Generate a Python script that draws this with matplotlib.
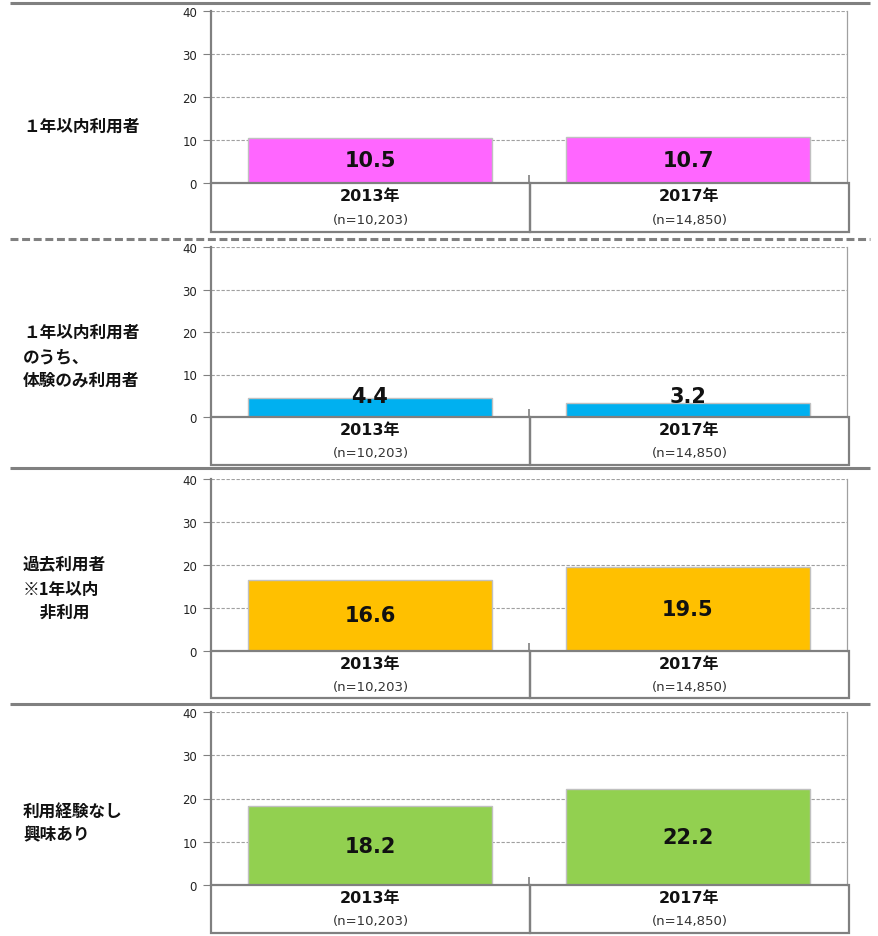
import matplotlib

matplotlib.use("Agg")
import matplotlib.pyplot as plt
from matplotlib.lines import Line2D
from matplotlib.patches import Rectangle

W, H = 879, 937
JP = ["Noto Sans CJK JP", "DejaVu Sans"]
NUM_JP = ["DejaVu Sans", "Noto Sans CJK JP"]
GRAY = "#808080"

years = ["2013年", "2017年"]
sample_sizes = ["(n=10,203)", "(n=14,850)"]
y_ticks = [0, 10, 20, 30, 40]

row_labels = [
    ["１年以内利用者"],
    ["１年以内利用者", "のうち、", "体験のみ利用者"],
    ["過去利用者", "※1年以内", "　非利用"],
    ["利用経験なし", "興味あり"],
]
values_recent = [10.5, 10.7]
values_trial_only = [4.4, 3.2]
values_past = [16.6, 19.5]
values_interested = [18.2, 22.2]
series = [values_recent, values_trial_only, values_past, values_interested]
bar_colors = ["#FF66FF", "#00B0F0", "#FFC000", "#92D050"]

# pixel layout: (y of 40, y of 0, table bottom), label line y's, separator above
panels = [
    ((12, 184, 233), [127], (4, "solid")),
    ((248, 418, 466), [333, 357, 380], (240, "dashed")),
    ((480, 652, 699), [565, 590, 613], (469, "solid")),
    ((713, 886, 934), [813, 835], (705, "solid")),
]
X_LEFT, X_RIGHT, X_TABLE_RIGHT = 211, 847, 849


def fy(y):
    return 1 - y / H


fig = plt.figure(figsize=(W / 100, H / 100), dpi=100)

for (geo, label_ys, sep), labels, vals, color in zip(panels, row_labels, series, bar_colors):
    y40, y0, yb = geo

    sep_y, sep_style = sep
    line = Line2D([10 / W, 870 / W], [fy(sep_y), fy(sep_y)], transform=fig.transFigure,
                  color=GRAY, linewidth=2.2, solid_capstyle="butt")
    if sep_style == "dashed":
        line.set_dashes((2.6, 1.2))
    fig.add_artist(line)

    ax = fig.add_axes([X_LEFT / W, fy(y0), (X_RIGHT - X_LEFT) / W, (y0 - y40) / H])
    x = list(range(len(vals)))
    ax.bar(x, vals, width=0.765, color=color, edgecolor="#C0C0C0", linewidth=1.0, zorder=3)
    ax.set_xlim(-0.5, 1.5)
    ax.set_ylim(0, 40)
    ax.set_yticks(y_ticks)
    ax.set_yticklabels([str(t) for t in y_ticks], fontsize=8.5, color="#222222")
    ax.set_xticks([0.5])
    ax.set_xticklabels([])
    ax.tick_params(axis="y", length=6, width=0.8, color=GRAY, pad=4)
    ax.tick_params(axis="x", direction="in", length=6, width=1.2, color=GRAY)
    for t in y_ticks[1:]:
        ax.axhline(t, color="#A0A0A0", linewidth=0.8, linestyle=(0, (3, 1.5)), zorder=1)
    ax.spines["top"].set_visible(False)
    ax.spines["left"].set_color(GRAY)
    ax.spines["left"].set_linewidth(1.6)
    ax.spines["right"].set_color("#A0A0A0")
    ax.spines["right"].set_linewidth(0.9)
    ax.spines["bottom"].set_color(GRAY)
    ax.spines["bottom"].set_linewidth(1.4)
    ax.patch.set_alpha(0)

    for xi, v in zip(x, vals):
        ax.text(xi, max(v / 2, 5.0), f"{v:.1f}", ha="center", va="center",
                fontsize=15, fontweight="bold", color="#111111", zorder=4)

    tax = fig.add_axes([X_LEFT / W, fy(yb), (X_TABLE_RIGHT - X_LEFT) / W, (yb - y0) / H])
    tax.set_axis_off()
    for i, (yr, n) in enumerate(zip(years, sample_sizes)):
        tax.add_patch(Rectangle((i * 0.5, 0), 0.5, 1, transform=tax.transAxes, fill=False,
                                edgecolor=GRAY, linewidth=1.6, clip_on=False))
        cx = i * 0.5 + 0.25
        tax.text(cx, 0.74, yr, transform=tax.transAxes, ha="center", va="center",
                 fontsize=11.5, fontweight="bold", family=NUM_JP, color="#111111")
        tax.text(cx, 0.25, n, transform=tax.transAxes, ha="center", va="center",
                 fontsize=9.5, color="#333333")

    for txt, ly in zip(labels, label_ys):
        fig.text(23 / W, fy(ly), txt, ha="left", va="center", fontsize=12,
                 fontweight="bold", family=JP, color="#111111")

fig.savefig("out.png", dpi=100)
